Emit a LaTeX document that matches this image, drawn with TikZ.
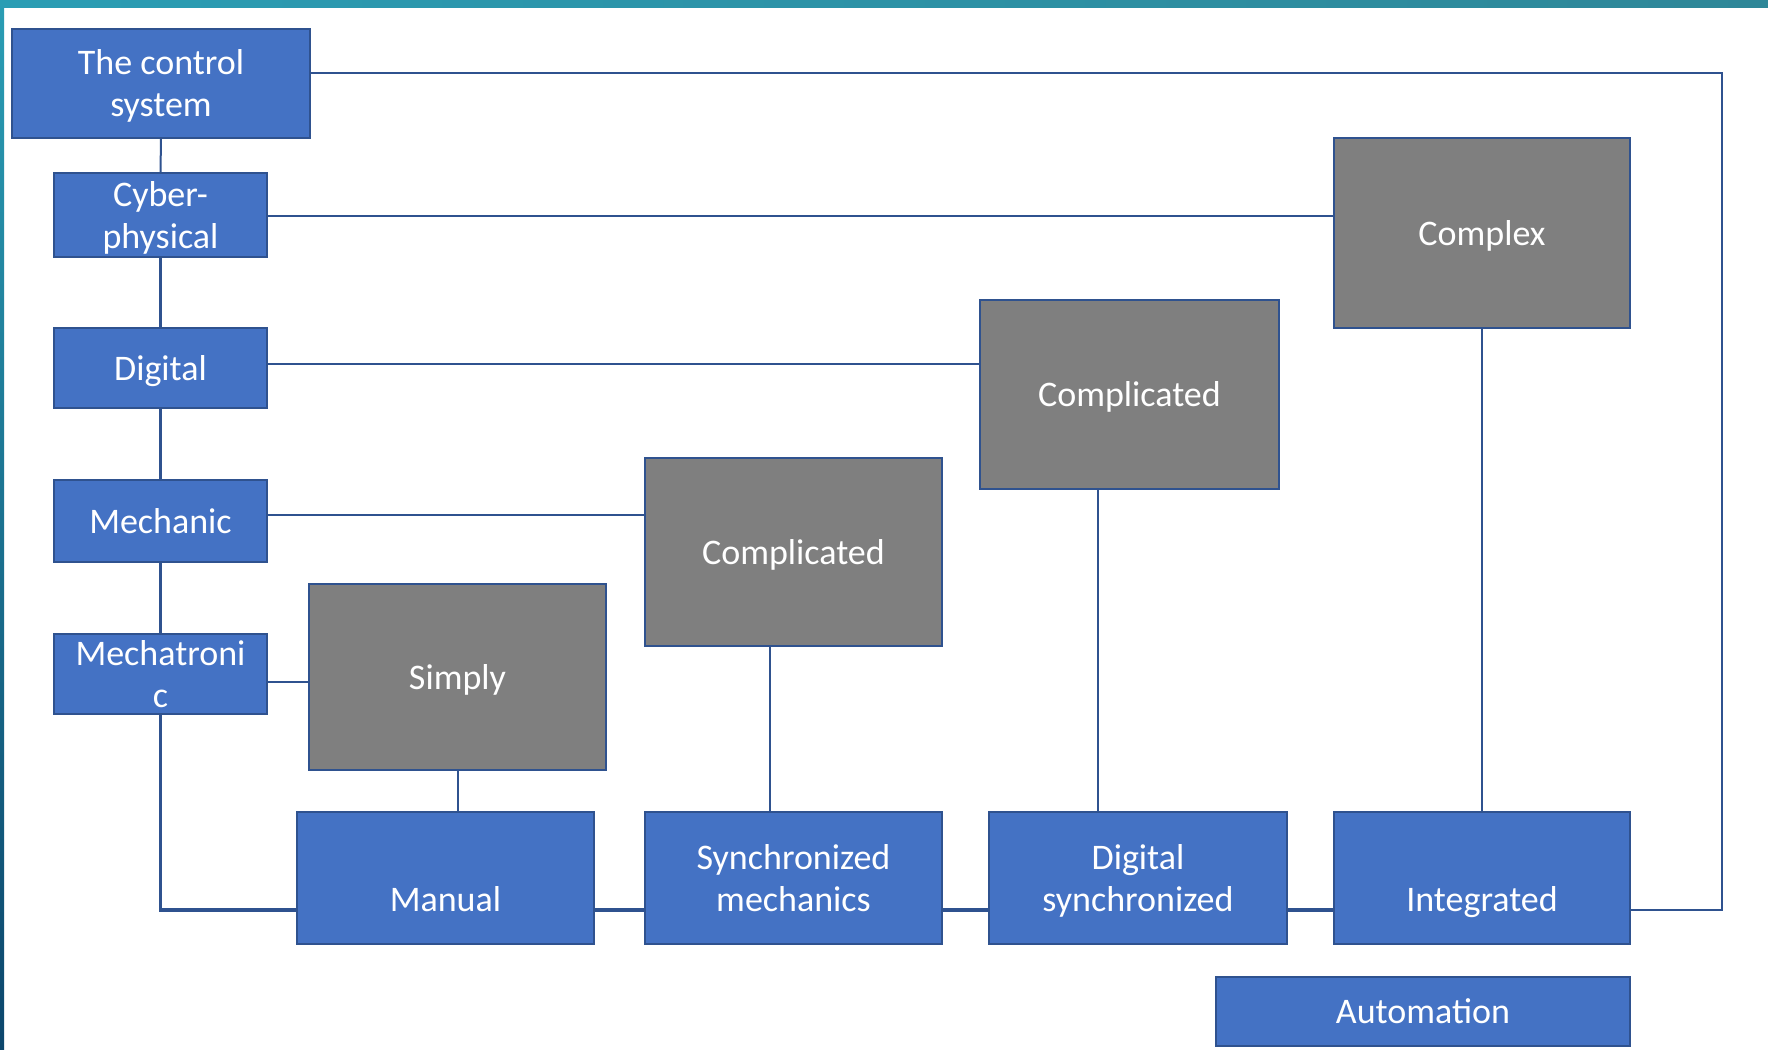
\documentclass[tikz,border=0pt]{standalone}
\usepackage{fontspec}
\setmainfont{Carlito}
\definecolor{boxblue}{HTML}{4472C4}
\definecolor{edgeblue}{HTML}{2F528F}
\definecolor{boxgray}{HTML}{7F7F7F}
\definecolor{tealA}{HTML}{2A9DB4}
\definecolor{tealB}{HTML}{2E8798}
\definecolor{navyB}{HTML}{0C466C}
% #1 = raise of the first baseline from the box centre, #2 = lines
\newcommand{\bt}[2]{\raisebox{#1}[0pt][0pt]{\begin{tabular}[t]{@{}c@{}}#2\end{tabular}}}
\newcommand{\one}{-6.2pt}
\newcommand{\two}{4.3pt}
\newcommand{\low}{-16.7pt}
\begin{document}
\begin{tikzpicture}[x=0.5pt,y=-0.5pt,
  base/.style={draw=edgeblue,line width=0.8pt,text=white,inner sep=0pt,
    font=\fontsize{18pt}{21pt}\selectfont},
  bluebox/.style={base,fill=boxblue},
  graybox/.style={base,fill=boxgray},
  thin/.style={draw=edgeblue,line width=1pt},
  thick/.style={draw=edgeblue,line width=1.75pt}]
\useasboundingbox (0,0) rectangle (1768,1050);
\fill[white] (0,0) rectangle (1768,1050);
\shade[left color=tealA,right color=tealB] (0,0) rectangle (1768,7);
\shade[top color=tealA,bottom color=navyB] (0,0) rectangle (4,1050);

% left column
\node[bluebox,minimum width=149pt,minimum height=54.5pt] (ctrl) at (161,83.5) {\bt{\two}{The control\\system}};
\node[bluebox,minimum width=106.5pt,minimum height=42pt] (cyber) at (160.5,215) {\bt{\two}{Cyber-\\physical}};
\node[bluebox,minimum width=106.5pt,minimum height=40pt] (digital) at (160.5,368) {\bt{\one}{Digital}};
\node[bluebox,minimum width=106.5pt,minimum height=41pt] (mechanic) at (160.5,521) {\bt{\one}{Mechanic}};
\node[bluebox,minimum width=106.5pt,minimum height=40pt] (mecha) at (160.5,674) {\bt{\two}{Mechatroni\\c}};

% gray boxes
\node[graybox,minimum width=148.5pt,minimum height=93pt] (simply) at (457.5,677) {\bt{\one}{Simply}};
\node[graybox,minimum width=148.5pt,minimum height=94pt] (comp1) at (793.5,552) {\bt{\one}{Complicated}};
\node[graybox,minimum width=149.5pt,minimum height=94.5pt] (comp2) at (1129.5,394.5) {\bt{\one}{Complicated}};
\node[graybox,minimum width=148pt,minimum height=95pt] (complex) at (1482,233) {\bt{\one}{Complex}};

% bottom row
\node[bluebox,minimum width=148.5pt,minimum height=66pt] (manual) at (445.5,878) {\bt{\low}{Manual}};
\node[bluebox,minimum width=148.5pt,minimum height=66pt] (sync) at (793.5,878) {\bt{\two}{Synchronized\\mechanics}};
\node[bluebox,minimum width=149pt,minimum height=66pt] (digsync) at (1138,878) {\bt{\two}{Digital\\synchronized}};
\node[bluebox,minimum width=148pt,minimum height=66pt] (integ) at (1482,878) {\bt{\low}{Integrated}};
\node[bluebox,minimum width=207pt,minimum height=34.5pt] (autom) at (1423,1011.5) {\bt{\one}{Automation}};

% outer loop
\coordinate (r1) at (1722,73);
\coordinate (r2) at (1722,910);
\coordinate (c1) at (160.5,910);

\draw[thin] (ctrl.east |- r1) -- (r1) -- (r2) -- (integ.east |- r2);
\draw[thin] (ctrl.south) -- (cyber.north);
\draw[thin] ([yshift=-0.5pt]cyber.east) -- ([yshift=-0.5pt]complex.west |- cyber.east);
\draw[thin] ([yshift=2pt]digital.east) -- ([yshift=2pt]comp2.west |- digital.east);
\draw[thin] ([yshift=3pt]mechanic.east) -- ([yshift=3pt]comp1.west |- mechanic.east);
\draw[thin] ([yshift=-4pt]mecha.east) -- ([yshift=-4pt]simply.west |- mecha.east);

\draw[thick] (cyber.south) -- (digital.north);
\draw[thick] (digital.south) -- (mechanic.north);
\draw[thick] (mechanic.south) -- (mecha.north);
\draw[thick] (mecha.south) -- (c1) -- (manual.west |- c1);

\draw[thin] (simply.south) -- (simply.south |- manual.north);
\draw[thin] ([xshift=-11.75pt]comp1.south) -- ([xshift=-11.75pt]comp1.south |- sync.north);
\draw[thin] ([xshift=-15.75pt]comp2.south) -- ([xshift=-15.75pt]comp2.south |- digsync.north);
\draw[thin] (complex.south) -- (integ.north);

\draw[thick] (manual.east |- c1) -- (sync.west |- c1);
\draw[thick] (sync.east |- c1) -- (digsync.west |- c1);
\draw[thick] (digsync.east |- c1) -- (integ.west |- c1);
\end{tikzpicture}
\end{document}
